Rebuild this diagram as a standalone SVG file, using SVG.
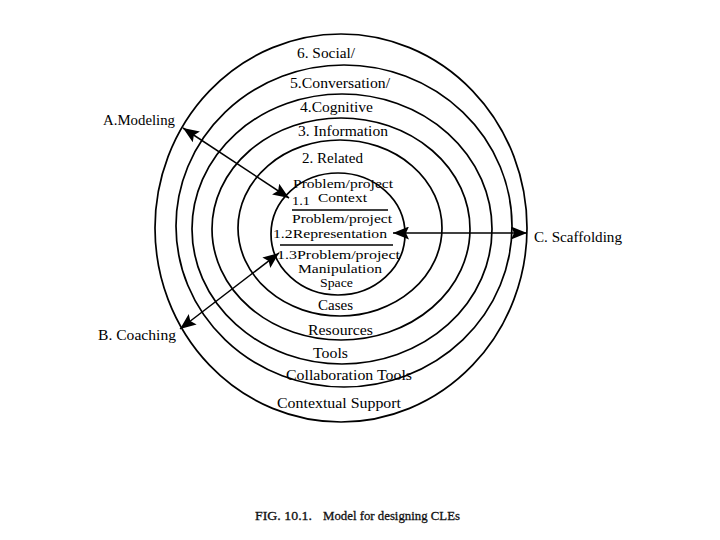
<svg xmlns="http://www.w3.org/2000/svg" width="720" height="540" viewBox="0 0 720 540">
<style>
.ring{fill:none;stroke:#000;stroke-width:1.7}
.t{font-family:"Liberation Serif","Times New Roman",serif;font-size:15px;fill:#000;text-anchor:middle}
.s{font-family:"Liberation Serif","Times New Roman",serif;font-size:15px;fill:#000}
.i{font-family:"Liberation Serif","Times New Roman",serif;font-size:12.5px;fill:#000;text-anchor:middle}
.is{font-family:"Liberation Serif","Times New Roman",serif;font-size:12.5px;fill:#000}
.cap{font-family:"Liberation Serif","Times New Roman",serif;font-size:13px;fill:#111;stroke:#111;stroke-width:0.3}
.conn{stroke:#000;stroke-width:1.5;fill:none}
.rule{stroke:#000;stroke-width:1.3}
</style>
<defs>
<marker id="ah" markerUnits="userSpaceOnUse" markerWidth="17" markerHeight="13" viewBox="0 0 17 13" refX="16" refY="6.5" orient="auto-start-reverse">
<path d="M0,0 L16,6.5 L0,13 L3,6.5 Z" fill="#000"/>
</marker>
</defs>
<rect width="720" height="540" fill="#fff"/>
<g id="rings">
<ellipse id="ring6" class="ring" cx="341" cy="228" rx="186" ry="194"/>
<ellipse id="ring5" class="ring" cx="344" cy="226" rx="168" ry="161"/>
<ellipse id="ring4" class="ring" cx="342" cy="229" rx="150" ry="135"/>
<ellipse id="ring3" class="ring" cx="341" cy="229" rx="129" ry="111"/>
<ellipse id="ring2" class="ring" cx="340" cy="228" rx="102" ry="88"/>
<ellipse id="ring1" class="ring" cx="338" cy="234" rx="67" ry="61"/>
</g>
<g id="layer-labels">
<text class="t" x="326" y="58" textLength="58" lengthAdjust="spacingAndGlyphs">6. Social/</text>
<text class="t" x="340" y="88" textLength="100" lengthAdjust="spacingAndGlyphs">5.Conversation/</text>
<text class="t" x="336.5" y="112" textLength="73" lengthAdjust="spacingAndGlyphs">4.Cognitive</text>
<text class="t" x="343" y="136" textLength="90" lengthAdjust="spacingAndGlyphs">3. Information</text>
<text class="t" x="332.5" y="163" textLength="61" lengthAdjust="spacingAndGlyphs">2. Related</text>
<text class="t" x="335.5" y="310" textLength="35" lengthAdjust="spacingAndGlyphs">Cases</text>
<text class="t" x="340.5" y="335" textLength="65" lengthAdjust="spacingAndGlyphs">Resources</text>
<text class="t" x="330.5" y="358" textLength="35" lengthAdjust="spacingAndGlyphs">Tools</text>
<text class="t" x="349" y="380" textLength="126" lengthAdjust="spacingAndGlyphs">Collaboration Tools</text>
<text class="t" x="339" y="408" textLength="124" lengthAdjust="spacingAndGlyphs">Contextual Support</text>
</g>
<g id="core">
<text class="i" x="343" y="188" textLength="100" lengthAdjust="spacingAndGlyphs">Problem/project</text>
<text class="is" x="292" y="205" textLength="18" lengthAdjust="spacingAndGlyphs">1.1</text>
<text class="is" x="318" y="202" textLength="49" lengthAdjust="spacingAndGlyphs">Context</text>
<line class="rule" x1="292" y1="210" x2="388" y2="210"/>
<text class="i" x="342" y="223" textLength="100" lengthAdjust="spacingAndGlyphs">Problem/project</text>
<text class="i" x="330" y="238" textLength="114" lengthAdjust="spacingAndGlyphs">1.2Representation</text>
<line class="rule" x1="280" y1="245" x2="393" y2="245"/>
<text class="i" x="338.5" y="259" textLength="123" lengthAdjust="spacingAndGlyphs">1.3Problem/project</text>
<text class="i" x="340" y="273" textLength="84" lengthAdjust="spacingAndGlyphs">Manipulation</text>
<text class="i" x="336.5" y="287" textLength="33" lengthAdjust="spacingAndGlyphs">Space</text>
</g>
<g id="modeling"><text class="s" x="103" y="125" textLength="72" lengthAdjust="spacingAndGlyphs">A.Modeling</text></g>
<g id="coaching"><text class="s" x="98" y="340" textLength="78" lengthAdjust="spacingAndGlyphs">B. Coaching</text></g>
<g id="scaffolding"><text class="s" x="534" y="242" textLength="88" lengthAdjust="spacingAndGlyphs">C. Scaffolding</text></g>
<g id="connectors">
<line class="conn" x1="183" y1="128" x2="289" y2="198" marker-start="url(#ah)" marker-end="url(#ah)"/>
<line class="conn" x1="180" y1="329" x2="279" y2="253" marker-start="url(#ah)" marker-end="url(#ah)"/>
<line class="conn" x1="393" y1="233" x2="527" y2="233" marker-start="url(#ah)" marker-end="url(#ah)"/>
</g>
<g id="caption">
<text class="cap" x="255" y="520" textLength="57" lengthAdjust="spacingAndGlyphs">FIG. 10.1.</text>
<text class="cap" x="323" y="520" textLength="137" lengthAdjust="spacingAndGlyphs">Model for designing CLEs</text>
</g>
</svg>
